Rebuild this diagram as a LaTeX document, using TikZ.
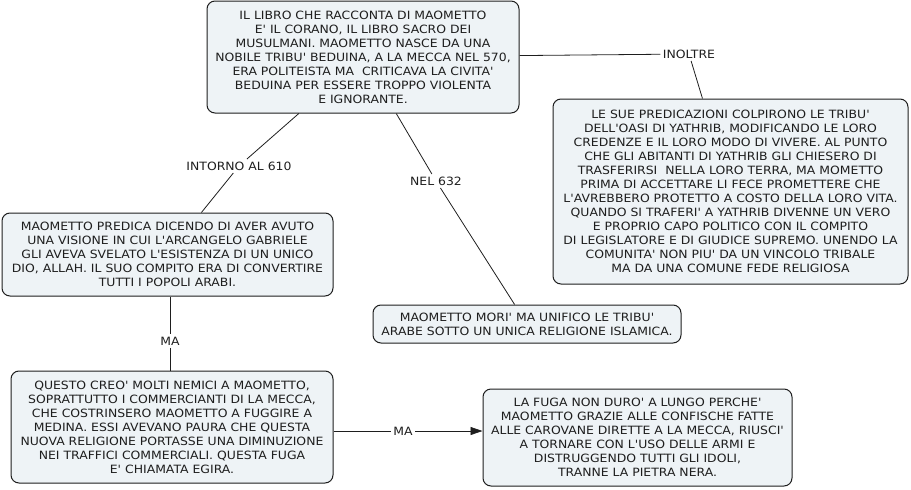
\documentclass[tikz,border=0pt]{standalone}
\usepackage{fontspec}
\setmainfont{DejaVu Sans}[Ligatures=TeXOff, FakeStretch=1.09]
\usetikzlibrary{arrows.meta}
\definecolor{boxfill}{HTML}{EEF3F6}
\definecolor{ink}{HTML}{1E1E1E}
\tikzset{
  concept/.style={draw=ink, line width=1pt, rounded corners=8pt, fill=boxfill,
    align=center, inner sep=0pt, text=ink, font=\fontsize{11.4}{14}\selectfont},
  linklabel/.style={inner sep=2.5pt, text=ink, font=\fontsize{11.4}{14}\selectfont},
  conn/.style={draw=ink, line width=0.8pt},
}
\begin{document}
\begin{tikzpicture}[x=1pt,y=-1pt]
\useasboundingbox (0,0) rectangle (911,490);
\node[concept, minimum width=312pt, minimum height=112pt] (main) at (363,57)
 {IL LIBRO CHE RACCONTA DI MAOMETTO\\E' IL CORANO, IL LIBRO SACRO DEI\\MUSULMANI. MAOMETTO NASCE DA UNA\\NOBILE TRIBU' BEDUINA, A LA MECCA NEL 570,\\ERA POLITEISTA MA\ \ CRITICAVA LA CIVITA'\\BEDUINA PER ESSERE TROPPO VIOLENTA\\E IGNORANTE.};
\node[concept, minimum width=355pt, minimum height=185pt] (yath) at (730.5,191.5)
 {LE SUE PREDICAZIONI COLPIRONO LE TRIBU'\\DELL'OASI DI YATHRIB, MODIFICANDO LE LORO\\CREDENZE E IL LORO MODO DI VIVERE. AL PUNTO\\CHE GLI ABITANTI DI YATHRIB GLI CHIESERO DI\\TRASFERIRSI\ \ NELLA LORO TERRA, MA MOMETTO\\PRIMA DI ACCETTARE LI FECE PROMETTERE CHE\\L'AVREBBERO PROTETTO A COSTO DELLA LORO VITA.\\QUANDO SI TRAFERI' A YATHRIB DIVENNE UN VERO\\E PROPRIO CAPO POLITICO CON IL COMPITO\\DI LEGISLATORE E DI GIUDICE SUPREMO. UNENDO LA\\COMUNITA' NON PIU' DA UN VINCOLO TRIBALE\\MA DA UNA COMUNE FEDE RELIGIOSA};
\node[concept, minimum width=331pt, minimum height=83pt] (pred) at (167.5,254.5)
 {MAOMETTO PREDICA DICENDO DI AVER AVUTO\\UNA VISIONE IN CUI L'ARCANGELO GABRIELE\\GLI AVEVA SVELATO L'ESISTENZA DI UN UNICO\\DIO, ALLAH. IL SUO COMPITO ERA DI CONVERTIRE\\TUTTI I POPOLI ARABI.};
\node[concept, minimum width=308pt, minimum height=38pt] (mori) at (527,324)
 {MAOMETTO MORI' MA UNIFICO LE TRIBU'\\ARABE SOTTO UN UNICA RELIGIONE ISLAMICA.};
\node[concept, minimum width=322pt, minimum height=112pt] (egira) at (172,427)
 {QUESTO CREO' MOLTI NEMICI A MAOMETTO,\\SOPRATTUTTO I COMMERCIANTI DI LA MECCA,\\CHE COSTRINSERO MAOMETTO A FUGGIRE A\\MEDINA. ESSI AVEVANO PAURA CHE QUESTA\\NUOVA RELIGIONE PORTASSE UNA DIMINUZIONE\\NEI TRAFFICI COMMERCIALI. QUESTA FUGA\\E' CHIAMATA EGIRA.};
\node[concept, minimum width=309pt, minimum height=97pt] (fuga) at (637.5,437.5)
 {LA FUGA NON DURO' A LUNGO PERCHE'\\MAOMETTO GRAZIE ALLE CONFISCHE FATTE\\ALLE CAROVANE DIRETTE A LA MECCA, RIUSCI'\\A TORNARE CON L'USO DELLE ARMI E\\DISTRUGGENDO TUTTI GLI IDOLI,\\TRANNE LA PIETRA NERA.};
% link labels
\node[linklabel] (linoltre) at (689,54) {INOLTRE};
\node[linklabel] (lintorno) at (239,166) {INTORNO AL 610};
\node[linklabel] (lnel) at (436,181) {NEL 632};
\node[linklabel] (lma1) at (170,341) {MA};
\node[linklabel] (lma2) at (403,431) {MA};
% connectors
\draw[conn] (main) -- (linoltre) -- (yath);
\draw[conn] (main) -- (lintorno) -- (pred);
\draw[conn] (main) -- (lnel) -- (mori);
\draw[conn] (pred.south -| lma1) -- (lma1) -- (egira.north -| lma1);
\draw[conn] (egira.east |- lma2) -- (lma2);
\draw[conn, -{Triangle[length=12pt,width=8pt]}] (lma2) -- (fuga.west |- lma2);
\end{tikzpicture}
\end{document}
